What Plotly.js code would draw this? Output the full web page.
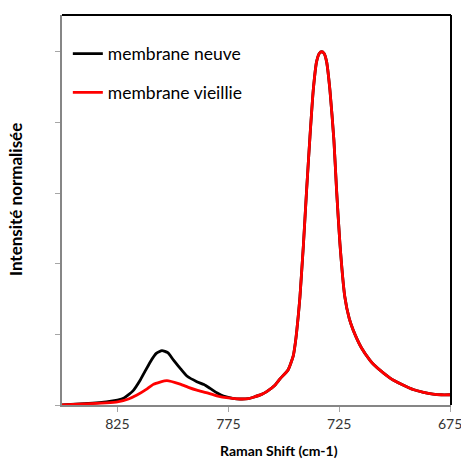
<!DOCTYPE html>
<html>
<head>
<meta charset="utf-8">
<script src="https://cdn.plot.ly/plotly-3.0.1.min.js"></script>
<style>html,body{margin:0;padding:0;background:#fff;}#chart{width:461px;height:459px;}</style>
</head>
<body>
<div id="chart"></div>
<script>
// Raman shift (cm-1) and normalised intensity
const shiftNeuve = [850, 840, 830, 825, 822, 818, 814.7, 810.2, 807.5, 804.9, 802.3, 799.7, 796.5, 793.7, 789.2, 786, 783.2, 780, 777.2, 773, 769.7, 766, 763.7, 760, 757.7, 754, 751.7, 748, 745.7, 744.5, 743.5, 742.7, 741.2, 739.7, 738.2, 736.7, 735.2, 734, 732.9, 731.8, 730.7, 729.2, 727.4, 726.2, 724.7, 722.5, 720.5, 718.7, 715, 711.2, 709.7, 705, 702.2, 700.7, 696, 691.7, 687, 682.7, 679, 675];
const intNeuve = [0.0, 0.004, 0.009, 0.014, 0.020, 0.040, 0.071, 0.122, 0.146, 0.154, 0.148, 0.127, 0.102, 0.082, 0.066, 0.058, 0.047, 0.034, 0.025, 0.019, 0.017, 0.018, 0.022, 0.030, 0.038, 0.056, 0.074, 0.100, 0.140, 0.190, 0.250, 0.307, 0.448, 0.609, 0.759, 0.892, 0.972, 0.995, 1.000, 0.995, 0.972, 0.892, 0.750, 0.609, 0.458, 0.307, 0.245, 0.212, 0.162, 0.127, 0.116, 0.090, 0.077, 0.071, 0.056, 0.044, 0.036, 0.031, 0.029, 0.029];
const shiftVieillie = [850, 840, 830, 825, 820, 816.2, 812, 808.7, 802.7, 796.7, 793, 789.2, 785, 780.2, 775, 769.7, 766, 763.7, 760, 757.7, 754, 751.7, 748, 745.7, 744.5, 743.5, 742.7, 741.2, 739.7, 738.2, 736.7, 735.2, 734, 732.9, 731.8, 730.7, 729.2, 727.4, 726.2, 724.7, 722.5, 720.5, 718.7, 715, 711.2, 709.7, 705, 702.2, 700.7, 696, 691.7, 687, 682.7, 679, 675];
const intVieillie = [0.0, 0.003, 0.006, 0.009, 0.017, 0.028, 0.044, 0.059, 0.069, 0.059, 0.050, 0.042, 0.035, 0.026, 0.020, 0.017, 0.018, 0.022, 0.030, 0.038, 0.056, 0.074, 0.100, 0.140, 0.190, 0.250, 0.307, 0.448, 0.609, 0.759, 0.892, 0.972, 0.995, 1.000, 0.995, 0.972, 0.892, 0.750, 0.609, 0.458, 0.307, 0.245, 0.212, 0.162, 0.127, 0.116, 0.090, 0.077, 0.071, 0.056, 0.044, 0.036, 0.031, 0.029, 0.029];
const seriesNames = ["membrane neuve", "membrane vieillie"];
const xTickVals = [825, 775, 725, 675];
const xTitle = "Raman Shift (cm-1)";
const yTitle = "Intensité normalisée";

const font = "Lato, 'Open Sans', sans-serif";
const traces = [
  {x: shiftNeuve, y: intNeuve, name: seriesNames[0], type: "scatter", mode: "lines",
   line: {color: "#000000", width: 2.8, shape: "spline", smoothing: 0.5}, legendgroup: "a"},
  {x: shiftVieillie, y: intVieillie, name: seriesNames[1], type: "scatter", mode: "lines",
   line: {color: "#ff0000", width: 2.8, shape: "spline", smoothing: 0.5}, legendgroup: "b"}
];
const layout = {
  width: 461, height: 459,
  margin: {l: 62, r: 10, t: 15, b: 54},
  paper_bgcolor: "#ffffff", plot_bgcolor: "#ffffff",
  font: {family: font, color: "#000"},
  showlegend: true,
  legend: {x: 0.015, y: 0.947, xanchor: "left", yanchor: "top", bgcolor: "rgba(0,0,0,0)",
           font: {family: font, size: 17.5, color: "#000"}, tracegroupgap: 13, traceorder: "grouped"},
  xaxis: {range: [850, 674.6], tickvals: xTickVals, ticktext: xTickVals.map(String),
          showgrid: false, zeroline: false, showline: true, linecolor: "#868686", linewidth: 2,
          ticks: "outside", ticklen: 5, tickcolor: "#a6a6a6", tickwidth: 1, ticklabeloverflow: "allow",
          tickfont: {family: font, size: 14, color: "#333"}},
  yaxis: {range: [0, 1.104], dtick: 0.2, tick0: 0, showticklabels: false,
          showgrid: false, zeroline: false, showline: true, linecolor: "#868686", linewidth: 2,
          ticks: "outside", ticklen: 5, tickcolor: "#a6a6a6", tickwidth: 1},
  yaxis2: {range: [0, 1.104], dtick: 0.2, tick0: 0, overlaying: "y", side: "left", anchor: "x",
           showticklabels: false, showgrid: false, zeroline: false, showline: false,
           ticks: "inside", ticklen: 5, tickcolor: "#a6a6a6", tickwidth: 1},
  annotations: [
    {text: "<b>" + xTitle + "</b>", xref: "paper", yref: "paper", x: 0.558, y: -0.116,
     xanchor: "center", yanchor: "middle", showarrow: false, font: {family: font, size: 14, color: "#000"}},
    {text: "<b>" + yTitle + "</b>", xref: "paper", yref: "paper", x: -0.121, y: 0.528, textangle: -90,
     xanchor: "center", yanchor: "middle", showarrow: false, font: {family: font, size: 17, color: "#000"}}
  ],
  shapes: [
    {type: "line", xref: "paper", yref: "paper", x0: 0, x1: 1, y0: 1, y1: 1, line: {color: "#000", width: 2}},
    {type: "line", xref: "paper", yref: "paper", x0: 1, x1: 1, y0: 0, y1: 1, line: {color: "#000", width: 2}}
  ]
};
Plotly.newPlot("chart", traces, layout, {displayModeBar: false, staticPlot: true});
</script>
</body>
</html>
